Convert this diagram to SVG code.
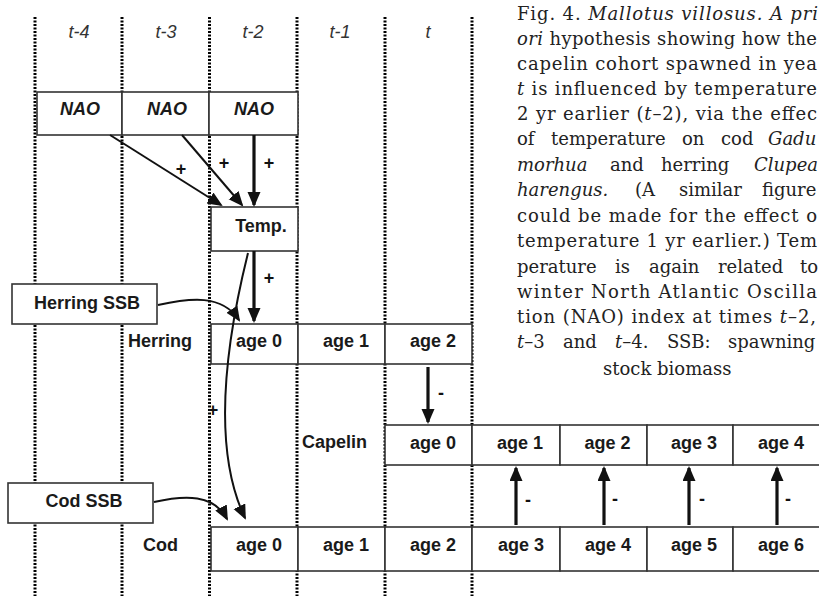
<svg xmlns="http://www.w3.org/2000/svg" width="819" height="596" viewBox="0 0 819 596">
<style>
.grid{stroke:#000;stroke-width:3;stroke-dasharray:2 1.5;fill:none}
.box{fill:#fff;stroke:#333;stroke-width:1.6}
.lbl{font-family:"Liberation Sans",Arial,sans-serif;font-weight:bold;font-size:18px;fill:#1a1a1a}
.mid{text-anchor:middle}
.col{font-family:"Liberation Sans",Arial,sans-serif;font-style:italic;font-size:18px;fill:#333;text-anchor:middle}
.nao{font-style:italic}
.thin{stroke:#111;stroke-width:2;fill:none}
.thick{stroke:#111;stroke-width:3.2;fill:none}
.sign{font-family:"Liberation Sans",Arial,sans-serif;font-weight:bold;font-size:18px;fill:#111;text-anchor:middle}
.cap{font-family:"DejaVu Serif","Liberation Serif",serif;font-size:18px;fill:#222}
.it{font-style:italic}
</style>
<defs>
<marker id="ah" markerUnits="userSpaceOnUse" markerWidth="16" markerHeight="14" refX="13" refY="6.5" orient="auto">
<path d="M0,0 L15,6.5 L0,13 Z" fill="#111"/>
</marker>
</defs>

<g id="grid">
<line class="grid" x1="35" y1="17" x2="35" y2="596"/>
<line class="grid" x1="122" y1="17" x2="122" y2="596"/>
<line class="grid" x1="209.5" y1="17" x2="209.5" y2="596"/>
<line class="grid" x1="297" y1="17" x2="297" y2="596"/>
<line class="grid" x1="385" y1="17" x2="385" y2="596"/>
<line class="grid" x1="472" y1="17" x2="472" y2="596"/>
</g>

<g id="columns">
<text class="col" x="79" y="38">t-4</text>
<text class="col" x="166" y="38">t-3</text>
<text class="col" x="253" y="38">t-2</text>
<text class="col" x="340" y="38">t-1</text>
<text class="col" x="428" y="38">t</text>
</g>

<g id="nao1"><rect class="box" x="37" y="92" width="85" height="43"/><text class="lbl mid nao" x="80" y="115">NAO</text></g>
<g id="nao2"><rect class="box" x="122" y="92" width="87" height="43"/><text class="lbl mid nao" x="167" y="115">NAO</text></g>
<g id="nao3"><rect class="box" x="209" y="92" width="89" height="43"/><text class="lbl mid nao" x="254" y="115">NAO</text></g>

<g id="temp"><rect class="box" x="211" y="207" width="87" height="44"/><text class="lbl mid" x="261" y="232">Temp.</text></g>

<g id="herring-ssb"><rect class="box" x="12" y="284" width="145" height="40"/><text class="lbl mid" x="87" y="309">Herring SSB</text></g>
<g id="cod-ssb"><rect class="box" x="8" y="483" width="145" height="40"/><text class="lbl mid" x="84" y="507">Cod SSB</text></g>

<g id="herring-row">
<text class="lbl" x="128" y="347">Herring</text>
<g id="h0"><rect class="box" x="211" y="324" width="87" height="40"/><text class="lbl mid" x="259" y="347">age 0</text></g>
<g id="h1"><rect class="box" x="298" y="324" width="87" height="40"/><text class="lbl mid" x="346" y="347">age 1</text></g>
<g id="h2"><rect class="box" x="385" y="324" width="87" height="40"/><text class="lbl mid" x="433" y="347">age 2</text></g>
</g>

<g id="capelin-row">
<text class="lbl" x="302" y="448">Capelin</text>
<g id="c0"><rect class="box" x="385" y="425" width="87" height="40"/><text class="lbl mid" x="433" y="449">age 0</text></g>
<g id="c1"><rect class="box" x="472" y="425" width="88" height="40"/><text class="lbl mid" x="520" y="449">age 1</text></g>
<g id="c2"><rect class="box" x="560" y="425" width="87" height="40"/><text class="lbl mid" x="607.5" y="449">age 2</text></g>
<g id="c3"><rect class="box" x="647" y="425" width="86" height="40"/><text class="lbl mid" x="694" y="449">age 3</text></g>
<g id="c4"><rect class="box" x="733" y="425" width="90" height="40"/><text class="lbl mid" x="781" y="449">age 4</text></g>
</g>

<g id="cod-row">
<text class="lbl" x="143" y="551">Cod</text>
<g id="d0"><rect class="box" x="211" y="527" width="87" height="44"/><text class="lbl mid" x="259" y="551">age 0</text></g>
<g id="d1"><rect class="box" x="298" y="527" width="87" height="44"/><text class="lbl mid" x="346" y="551">age 1</text></g>
<g id="d2"><rect class="box" x="385" y="527" width="87" height="44"/><text class="lbl mid" x="433" y="551">age 2</text></g>
<g id="d3"><rect class="box" x="472" y="527" width="88" height="44"/><text class="lbl mid" x="521" y="551">age 3</text></g>
<g id="d4"><rect class="box" x="560" y="527" width="87" height="44"/><text class="lbl mid" x="608" y="551">age 4</text></g>
<g id="d5"><rect class="box" x="647" y="527" width="86" height="44"/><text class="lbl mid" x="694" y="551">age 5</text></g>
<g id="d6"><rect class="box" x="733" y="527" width="90" height="44"/><text class="lbl mid" x="781" y="551">age 6</text></g>
</g>

<g id="connectors">
<path class="thin" d="M110,135 L221,205" marker-end="url(#ah)"/>
<path class="thin" d="M182,135 L242,205" marker-end="url(#ah)"/>
<path class="thick" d="M254,135 V205" marker-end="url(#ah)"/>
<path class="thick" d="M254,251 V321" marker-end="url(#ah)"/>
<path class="thin" d="M158,305 C190,298 222,294 239,320" marker-end="url(#ah)"/>
<path class="thin" d="M248,253 C214,390 222,470 245,518" marker-end="url(#ah)"/>
<path class="thin" d="M154,502 C185,495 214,494 227,519" marker-end="url(#ah)"/>
<path class="thick" d="M428,367 V422" marker-end="url(#ah)"/>
<path class="thick" d="M516,525 V468" marker-end="url(#ah)"/>
<path class="thick" d="M604,525 V468" marker-end="url(#ah)"/>
<path class="thick" d="M689,525 V468" marker-end="url(#ah)"/>
<path class="thick" d="M777,525 V468" marker-end="url(#ah)"/>
<text class="sign" x="181" y="175">+</text>
<text class="sign" x="224" y="169">+</text>
<text class="sign" x="269" y="169">+</text>
<text class="sign" x="269" y="284">+</text>
<text class="sign" x="213" y="416">+</text>
<text class="sign" x="441" y="399">-</text>
<text class="sign" x="528" y="506">-</text>
<text class="sign" x="615" y="505">-</text>
<text class="sign" x="702" y="505">-</text>
<text class="sign" x="788" y="505">-</text>
</g>

<g id="caption" class="cap">
<text x="517" y="20" textLength="301" lengthAdjust="spacing">Fig. 4. <tspan class="it">Mallotus villosus. A pri</tspan></text>
<text x="517" y="45" textLength="300" lengthAdjust="spacing"><tspan class="it">ori</tspan> hypothesis showing how the</text>
<text x="517" y="70" textLength="300" lengthAdjust="spacing">capelin cohort spawned in yea</text>
<text x="517" y="95" textLength="300" lengthAdjust="spacing"><tspan class="it">t</tspan> is influenced by temperature</text>
<text x="517" y="120" textLength="300" lengthAdjust="spacing">2 yr earlier (<tspan class="it">t</tspan>–2), via the effec</text>
<text y="145"><tspan x="517">of</tspan><tspan x="551">temperature</tspan><tspan x="682">on</tspan><tspan x="721">cod</tspan><tspan x="768" class="it">Gadu</tspan></text>
<text y="171"><tspan x="517" class="it">morhua</tspan><tspan x="610">and</tspan><tspan x="661">herring</tspan><tspan x="754" class="it">Clupea</tspan></text>
<text y="196"><tspan x="517" class="it">harengus.</tspan><tspan x="635">(A</tspan><tspan x="679">similar</tspan><tspan x="762">figure</tspan></text>
<text x="517" y="222" textLength="300" lengthAdjust="spacing">could be made for the effect o</text>
<text x="517" y="247" textLength="300" lengthAdjust="spacing">temperature 1 yr earlier.) Tem</text>
<text y="273"><tspan x="517">perature</tspan><tspan x="615">is</tspan><tspan x="649">again</tspan><tspan x="718">related</tspan><tspan x="800">to</tspan></text>
<text x="517" y="298" textLength="300" lengthAdjust="spacing">winter North Atlantic Oscilla</text>
<text x="517" y="323" textLength="299" lengthAdjust="spacing">tion (NAO) index at times <tspan class="it">t</tspan>–2,</text>
<text y="348"><tspan x="517"><tspan class="it">t</tspan>–3</tspan><tspan x="563">and</tspan><tspan x="615"><tspan class="it">t</tspan>–4.</tspan><tspan x="667">SSB:</tspan><tspan x="728">spawning</tspan></text>
<text x="603" y="375">stock biomass</text>
</g>
</svg>
